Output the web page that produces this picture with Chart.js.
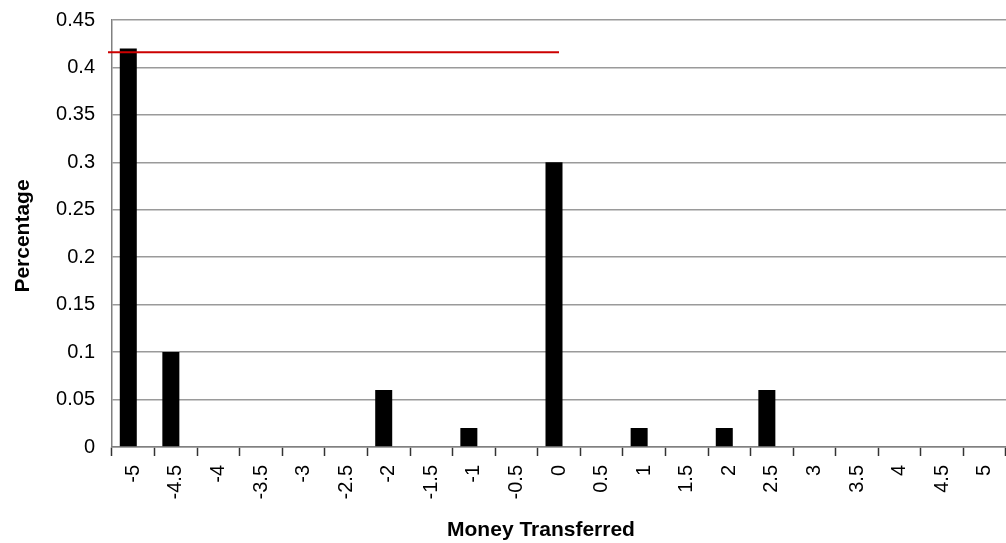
<!DOCTYPE html>
<html>
<head>
<meta charset="utf-8">
<script src="https://cdn.jsdelivr.net/npm/chart.js@4/dist/chart.umd.min.js"></script>
<style>
  html, body { margin: 0; padding: 0; background: #fff; }
  #wrap { width: 1006px; height: 543px; position: relative; }
</style>
</head>
<body>
<div id="wrap"><canvas id="c"></canvas></div>
<script>
// Money transferred (categories) and share of subjects choosing each amount
const transferLabels = ['-5', '-4.5', '-4', '-3.5', '-3', '-2.5', '-2', '-1.5', '-1', '-0.5',
                        '0', '0.5', '1', '1.5', '2', '2.5', '3', '3.5', '4', '4.5', '5'];
const percentageValues = [0.42, 0.10, 0, 0, 0, 0, 0.06, 0, 0.02, 0,
                          0.30, 0, 0.02, 0, 0.02, 0.06, 0, 0, 0, 0, 0];
// second (empty) series that keeps its slot in each category group
const emptySeries = [];
const yTickLabels = ['0', '0.05', '0.1', '0.15', '0.2', '0.25', '0.3', '0.35', '0.4', '0.45'];
// red reference level, running from the axis to the "0" category
const referenceLevel = 0.416;
const referenceEnd = '0';

const FONT = "'Liberation Sans', Arial, sans-serif";

const referenceLine = {
  id: 'referenceLine',
  afterDatasetsDraw(chart) {
    const { ctx, chartArea, scales } = chart;
    const y = scales.y.getPixelForValue(referenceLevel);
    const x2 = scales.x.getPixelForValue(transferLabels.indexOf(referenceEnd));
    ctx.save();
    ctx.strokeStyle = '#cc0000';
    ctx.lineWidth = 2;
    ctx.beginPath();
    ctx.moveTo(chartArea.left - 4, y);
    ctx.lineTo(x2, y);
    ctx.stroke();
    ctx.restore();
  }
};

const axisTitles = {
  id: 'axisTitles',
  afterDraw(chart) {
    const { ctx } = chart;
    ctx.save();
    ctx.fillStyle = '#000';
    ctx.font = 'bold 21px ' + FONT;
    ctx.textAlign = 'center';
    ctx.textBaseline = 'alphabetic';
    ctx.fillText('Money Transferred', 541, 536);
    ctx.translate(29, 236);
    ctx.rotate(-Math.PI / 2);
    ctx.font = 'bold 21px ' + FONT;
    ctx.fillText('Percentage', 0, 0);
    ctx.restore();
  }
};

new Chart(document.getElementById('c'), {
  type: 'bar',
  data: {
    labels: transferLabels,
    datasets: [
      {
        label: 'Percentage',
        data: percentageValues,
        backgroundColor: '#000',
        borderWidth: 0,
        barPercentage: 1.7,
        categoryPercentage: 0.47
      },
      {
        label: '',
        data: emptySeries,
        backgroundColor: '#000',
        borderWidth: 0,
        barPercentage: 1.7,
        categoryPercentage: 0.47
      }
    ]
  },
  options: {
    responsive: true,
    maintainAspectRatio: false,
    animation: false,
    devicePixelRatio: 1,
    layout: { padding: { top: 20, right: 0, left: 0, bottom: 0 } },
    plugins: {
      legend: { display: false },
      tooltip: { enabled: false }
    },
    scales: {
      x: {
        type: 'category',
        offset: true,
        grid: {
          offset: true,
          drawOnChartArea: false,
          drawTicks: true,
          tickLength: 9,
          tickWidth: 1.5,
          tickColor: '#333'
        },
        border: { display: true, color: '#808080', width: 1.5 },
        ticks: {
          minRotation: 90,
          maxRotation: 90,
          autoSkip: false,
          padding: 9,
          color: '#000',
          font: { family: FONT, size: 20 }
        },
        afterFit(scale) {
          scale.height = 96;
          scale.paddingLeft = 0;
          scale.paddingRight = 0;
        }
      },
      y: {
        min: 0,
        max: 0.45,
        grid: {
          color: '#9a9a9a',
          lineWidth: 1.5,
          drawTicks: false
        },
        border: { display: true, color: '#808080', width: 1.5 },
        ticks: {
          stepSize: 0.05,
          padding: 17,
          color: '#000',
          font: { family: FONT, size: 20 },
          callback(value, index) { return yTickLabels[index]; }
        },
        afterFit(scale) {
          scale.width = 112;
          scale.paddingTop = 0;
          scale.paddingBottom = 0;
        }
      }
    }
  },
  plugins: [referenceLine, axisTitles]
});
</script>
</body>
</html>
